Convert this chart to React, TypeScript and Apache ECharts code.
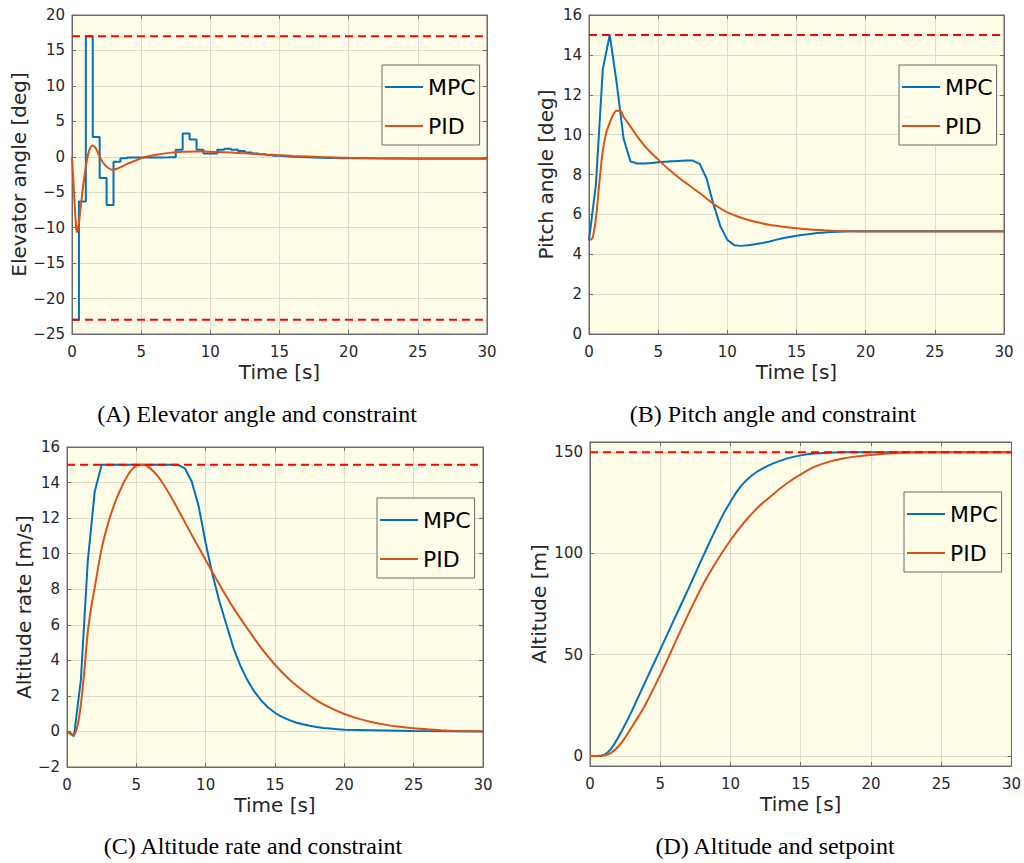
import React, { useEffect, useRef } from 'react';
import * as echarts from 'echarts';

// ---------- shared sample grid (0.5 s, then sparse tail) ----------
const tStep = [0, 0.5, 1, 1.5, 2, 2.5, 3, 3.5, 4, 4.5, 5, 5.5, 6, 6.5, 7, 7.5, 8, 8.5, 9, 9.5, 10, 10.5, 11, 11.5, 12, 12.5, 13, 13.5, 14, 14.5, 15, 15.5, 16, 16.5, 17, 17.5, 18, 18.5, 19, 19.5, 20, 25, 30];

// ---------- (A) Elevator angle ----------
const mpcElevator = [-23, -6.3, 17, 2.8, -3.0, -6.8, -0.7, -0.2, -0.1, -0.1, -0.1, -0.1, -0.1, -0.08, -0.05, 1.0, 3.3, 2.45, 1.0, 0.45, 0.45, 1.0, 1.15, 1.0, 0.8, 0.6, 0.45, 0.35, 0.25, 0.15, 0.08, 0.02, -0.03, -0.07, -0.1, -0.13, -0.16, -0.18, -0.2, -0.22, -0.23, -0.26, -0.27];
const tPidElevator = [0, 0.1, 0.2, 0.3, 0.35, 0.4, 0.5, 0.6, 0.7, 0.8, 0.9, 1.0, 1.1, 1.2, 1.3, 1.4, 1.5, 1.6, 1.7, 1.8, 2.0, 2.2, 2.4, 2.6, 2.8, 3.0, 3.3, 3.6, 4.0, 4.5, 5, 6, 7, 8, 9, 10, 11, 12, 13, 14, 15, 16, 17, 18, 19, 20, 22, 24, 26, 28, 30];
const pidElevator = [0, -3.5, -7.0, -10.0, -10.6, -10.5, -9.3, -7.6, -5.9, -4.2, -2.7, -1.4, -0.3, 0.6, 1.2, 1.5, 1.6, 1.5, 1.25, 0.9, 0.0, -0.7, -1.2, -1.55, -1.78, -1.82, -1.65, -1.4, -1.0, -0.6, -0.2, 0.25, 0.55, 0.7, 0.75, 0.72, 0.64, 0.54, 0.43, 0.32, 0.22, 0.12, 0.04, -0.04, -0.1, -0.15, -0.22, -0.26, -0.28, -0.28, -0.28];
const elevatorUpper = 17;
const elevatorLower = -23;

// ---------- (B) Pitch angle ----------
const mpcPitch = [4.7, 7.5, 13.3, 15.0, 12.6, 9.8, 8.65, 8.55, 8.55, 8.58, 8.62, 8.64, 8.66, 8.68, 8.7, 8.7, 8.53, 7.8, 6.5, 5.4, 4.72, 4.45, 4.42, 4.45, 4.5, 4.56, 4.63, 4.72, 4.8, 4.87, 4.93, 4.98, 5.02, 5.06, 5.09, 5.11, 5.13, 5.14, 5.15, 5.15, 5.15, 5.15, 5.15];
const tPidPitch = [0, 0.25, 0.5, 0.75, 1, 1.25, 1.5, 1.75, 2, 2.25, 2.5, 3, 3.5, 4, 4.5, 5, 5.5, 6, 6.5, 7, 7.5, 8, 8.5, 9, 9.5, 10, 11, 12, 13, 14, 15, 16, 17, 18, 19, 20, 25, 30];
const pidPitch = [4.7, 4.8, 5.8, 7.6, 9.2, 10.1, 10.6, 11.0, 11.2, 11.2, 10.9, 10.4, 9.9, 9.45, 9.08, 8.75, 8.42, 8.12, 7.84, 7.58, 7.32, 7.07, 6.8, 6.52, 6.3, 6.1, 5.83, 5.63, 5.48, 5.38, 5.3, 5.24, 5.2, 5.17, 5.15, 5.14, 5.14, 5.14];
const pitchUpper = 15;

// ---------- (C) Altitude rate ----------
const mpcRate = [0, -0.26, 2.9, 9.6, 13.5, 15, 15, 15, 15, 15, 15, 15, 15, 15, 15, 15, 15, 14.8, 14.05, 12.65, 10.6, 8.8, 7.3, 6.0, 4.7, 3.7, 2.9, 2.25, 1.75, 1.35, 1.05, 0.82, 0.65, 0.5, 0.4, 0.32, 0.25, 0.2, 0.16, 0.13, 0.1, 0.02, 0];
const tPidRate = [0, 0.25, 0.5, 0.75, 1, 1.25, 1.5, 1.75, 2, 2.5, 3, 3.5, 4, 4.5, 5, 5.5, 6, 6.5, 7, 7.5, 8, 9, 10, 11, 12, 13, 14, 15, 16, 17, 18, 19, 20, 21, 22, 23, 24, 25, 26, 27, 28, 29, 30];
const pidRate = [0, -0.1, -0.2, 0.3, 1.5, 3.4, 5.6, 7.0, 8.1, 10.3, 11.8, 12.95, 13.85, 14.55, 14.95, 15.0, 14.8, 14.4, 13.85, 13.2, 12.5, 11.05, 9.65, 8.25, 6.95, 5.8, 4.7, 3.75, 2.95, 2.3, 1.75, 1.32, 0.98, 0.72, 0.52, 0.37, 0.26, 0.18, 0.12, 0.07, 0.03, 0.01, 0];
const rateUpper = 15;

// ---------- (D) Altitude ----------
const tMpcAlt = [0, 0.5, 1, 1.5, 2, 2.5, 3, 3.5, 4, 5, 6, 7, 8, 8.5, 9, 9.5, 10, 10.5, 11, 11.5, 12, 13, 14, 15, 16, 17, 18, 20, 25, 30];
const mpcAlt = [0, -0.05, 0.5, 3.5, 9, 15.5, 22.5, 30, 37.5, 52.5, 67.5, 82.5, 97.8, 105.3, 112.6, 119.5, 125.5, 131, 135.2, 138.3, 140.8, 144.3, 146.8, 148.4, 149.3, 149.7, 149.9, 150, 150, 150];
const tPidAlt = [0, 0.5, 1, 1.5, 2, 2.5, 3, 3.5, 4, 5, 6, 7, 8, 9, 10, 11, 12, 13, 14, 15, 16, 17, 18, 19, 20, 21, 22, 23, 24, 25, 30];
const pidAlt = [0, 0, 0.2, 1.5, 4.5, 9, 14.5, 20, 26, 40, 55, 70, 84, 96, 106.5, 115.5, 123, 129, 134.5, 139, 142.8, 145.2, 146.8, 147.9, 148.6, 149.2, 149.6, 149.8, 149.95, 150, 150];
const altSetpoint = 150;

// ---------- tick labels ----------
const altTicks = [0, 50, 100, 150];

const captions = ['(A) Elevator angle and constraint', '(B) Pitch angle and constraint', '(C) Altitude rate and constraint', '(D) Altitude and setpoint'];
const yNames = ['Elevator angle [deg]', 'Pitch angle [deg]', 'Altitude rate [m/s]', 'Altitude [m]'];
const legendNames = ['MPC', 'PID'];

const BLUE = '#0072BD';
const ORANGE = '#D95319';
const RED = '#FF0000';
const BG = '#FFFDE7';
const BOX = '#6a6a6a';
const GRIDC = '#dedcc9';
const TXT = '#262626';
const SANS = '"DejaVu Sans", sans-serif';

const zip = (t: number[], v: number[]) => t.map((x, i) => [x, v[i]]);
const hline = (y: number) => [[0, y], [30, y]];
const fmt = (v: number) => (v < 0 ? '\u2212' + Math.abs(v) : String(v));

function buildOption() {
  const grids = [
    { left: 72, top: 15, width: 415, height: 319 },
    { left: 589, top: 15, width: 415, height: 319 },
    { left: 67, top: 447, width: 416, height: 320 },
    { left: 590, top: 442, width: 422, height: 324 },
  ];
  const yCfg: any[] = [
    { min: -25, max: 20, interval: 5, gap: 34 },
    { min: 0, max: 16, interval: 2, gap: 33 },
    { min: -2, max: 16, interval: 2, gap: 31 },
    { min: -5, max: 155, custom: altTicks, gap: 41 },
  ];
  const legendPos = [
    { left: 382, top: 65 },
    { left: 899, top: 65 },
    { left: 377, top: 498 },
    { left: 904, top: 492 },
  ];

  const xAxis: any[] = [];
  const yAxis: any[] = [];
  for (let i = 0; i < 4; i++) {
    xAxis.push({
      type: 'value', gridIndex: i, min: 0, max: 30, interval: 5, position: 'bottom',
      name: 'Time [s]', nameLocation: 'middle', nameGap: 28,
      nameTextStyle: { fontFamily: SANS, fontSize: 20, color: TXT },
      axisLine: { show: true, onZero: false, lineStyle: { color: BOX, width: 1 } },
      axisTick: { show: true, inside: true, length: 4, lineStyle: { color: BOX } },
      axisLabel: { show: true, fontFamily: SANS, fontSize: 15, color: TXT, margin: 10, formatter: fmt },
      splitLine: { show: true, lineStyle: { color: GRIDC, width: 1 } },
    });
  }
  for (let i = 0; i < 4; i++) {
    xAxis.push({
      type: 'value', gridIndex: i, min: 0, max: 30, interval: 5, position: 'top',
      axisLine: { show: true, onZero: false, lineStyle: { color: BOX, width: 1 } },
      axisTick: { show: true, inside: true, length: 4, lineStyle: { color: BOX } },
      axisLabel: { show: false }, splitLine: { show: false },
    });
  }
  for (let i = 0; i < 4; i++) {
    const c = yCfg[i];
    const base: any = {
      type: 'value', gridIndex: i, min: c.min, max: c.max, position: 'left',
      name: yNames[i], nameLocation: 'middle', nameGap: c.gap, nameRotate: 90,
      nameTextStyle: { fontFamily: SANS, fontSize: 20, color: TXT },
      axisLine: { show: true, onZero: false, lineStyle: { color: BOX, width: 1 } },
      axisTick: { show: true, inside: true, length: 4, lineStyle: { color: BOX } },
      axisLabel: { show: true, fontFamily: SANS, fontSize: 15, color: TXT, margin: 7, formatter: fmt },
      splitLine: { show: true, lineStyle: { color: GRIDC, width: 1 } },
    };
    if (c.interval) base.interval = c.interval;
    if (c.custom) {
      base.axisTick.customValues = c.custom;
      base.axisLabel.customValues = c.custom;
    }
    yAxis.push(base);
  }
  for (let i = 0; i < 4; i++) {
    const c = yCfg[i];
    const sec: any = {
      type: 'value', gridIndex: i, min: c.min, max: c.max, position: 'right',
      axisLine: { show: true, onZero: false, lineStyle: { color: BOX, width: 1 } },
      axisTick: { show: true, inside: true, length: 4, lineStyle: { color: BOX } },
      axisLabel: { show: false }, splitLine: { show: false },
    };
    if (c.interval) sec.interval = c.interval;
    if (c.custom) sec.axisTick.customValues = c.custom;
    yAxis.push(sec);
  }

  const line = (i: number, name: string, color: string, data: number[][], extra: any = {}) => ({
    type: 'line', name, xAxisIndex: i, yAxisIndex: i, data, showSymbol: false, symbol: 'none',
    lineStyle: { color, width: 2 }, itemStyle: { color }, silent: true, ...extra,
  });
  const dashed = (i: number, y: number) => ({
    type: 'line', name: 'limit', xAxisIndex: i, yAxisIndex: i, data: hline(y), showSymbol: false, symbol: 'none',
    lineStyle: { color: RED, width: 2, type: [8, 5] }, silent: true, z: 5,
  });

  const series: any[] = [
    line(0, 'MPC', BLUE, zip(tStep, mpcElevator), { step: 'end' }),
    line(0, 'PID', ORANGE, zip(tPidElevator, pidElevator), { smooth: 0.2 }),
    dashed(0, elevatorUpper),
    dashed(0, elevatorLower),
    line(1, 'MPC', BLUE, zip(tStep, mpcPitch)),
    line(1, 'PID', ORANGE, zip(tPidPitch, pidPitch), { smooth: 0.3 }),
    dashed(1, pitchUpper),
    line(2, 'MPC', BLUE, zip(tStep, mpcRate)),
    line(2, 'PID', ORANGE, zip(tPidRate, pidRate), { smooth: 0.3 }),
    dashed(2, rateUpper),
    line(3, 'MPC', BLUE, zip(tMpcAlt, mpcAlt), { smooth: 0.3 }),
    line(3, 'PID', ORANGE, zip(tPidAlt, pidAlt), { smooth: 0.3 }),
    dashed(3, altSetpoint),
  ];

  const legend = legendPos.map((p) => ({
    data: legendNames.map((n) => ({ name: n, icon: 'rect' })),
    orient: 'vertical', left: p.left, top: p.top,
    padding: [11, 4, 8, 3], itemGap: 17, itemWidth: 38, itemHeight: 2,
    backgroundColor: BG, borderColor: BOX, borderWidth: 1, selectedMode: false,
    textStyle: { fontFamily: SANS, fontSize: 22, lineHeight: 22, color: '#000' },
  }));

  const capPos = [
    { x: 257, y: 414 }, { x: 773, y: 414 }, { x: 253, y: 846 }, { x: 775, y: 846 },
  ];
  const graphic = captions.map((t, i) => ({
    type: 'text', x: capPos[i].x, y: capPos[i].y, scaleY: 0.92, silent: true,
    style: { text: t, fontFamily: '"Liberation Serif", serif', fontSize: 24, fill: '#000', align: 'center', verticalAlign: 'middle' },
  }));

  return {
    animation: false,
    backgroundColor: '#ffffff',
    grid: grids.map((g) => ({ ...g, show: true, backgroundColor: BG, borderColor: BOX, borderWidth: 1, containLabel: false })),
    xAxis, yAxis, series, legend, graphic,
  };
}

export default function App() {
  const ref = useRef<HTMLDivElement>(null);
  useEffect(() => {
    document.body.style.margin = '0';
    const chart = echarts.init(ref.current!, null, { renderer: 'svg' });
    chart.setOption(buildOption() as any);
    return () => chart.dispose();
  }, []);
  return <div ref={ref} style={{ width: 1024, height: 863, background: '#fff' }} />;
}
